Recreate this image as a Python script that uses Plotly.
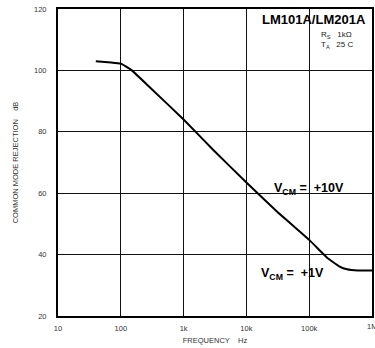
import plotly.graph_objects as go

freq_hz = [40, 70, 100, 120, 150, 300, 1000, 3000, 10000, 30000, 100000, 150000, 200000, 300000, 400000, 600000, 1000000]
cmr_db = [103, 102.6, 102.2, 101.3, 100, 94.2, 84, 74, 63.5, 54.2, 44.8, 41.2, 38.7, 36.2, 35.2, 34.8, 34.8]

x_tick_vals = [10, 100, 1000, 10000, 100000, 1000000]
x_tick_text = ["10", "100", "1k", "10k", "100k", "1M"]
y_tick_vals = [20, 40, 60, 80, 100, 120]

font_family = "Liberation Sans, Arial, sans-serif"

fig = go.Figure()
fig.add_trace(go.Scatter(
    x=freq_hz, y=cmr_db, mode="lines",
    line=dict(color="black", width=2, shape="spline", smoothing=0.3),
    hoverinfo="skip", showlegend=False,
))

fig.update_layout(
    width=375, height=348,
    margin=dict(l=58, r=3, t=9, b=32),
    paper_bgcolor="white", plot_bgcolor="white",
    font=dict(family=font_family, color="#222", size=8),
    showlegend=False,
)
fig.update_xaxes(
    type="log", range=[1, 6],
    tickvals=x_tick_vals[:-1], ticktext=x_tick_text[:-1],
    showgrid=True, gridcolor="#111", gridwidth=1,
    showline=True, linecolor="black", linewidth=2, mirror=True,
    ticks="", tickfont=dict(size=7.5, color="#333"), ticklabelstandoff=4,
    title=dict(text="FREQUENCY    Hz", font=dict(size=7.5, color="#333"), standoff=6),
    zeroline=False, automargin=False,
)
fig.update_yaxes(
    range=[20, 120],
    tickvals=y_tick_vals,
    showgrid=True, gridcolor="#111", gridwidth=1,
    showline=True, linecolor="black", linewidth=2, mirror=True,
    ticks="", tickfont=dict(size=7.5, color="#333"), ticklabelstandoff=8,
    title=dict(text="COMMON MODE REJECTION    dB", font=dict(size=7.5, color="#333"), standoff=14),
    zeroline=False, automargin=False,
)

# last x tick label (at the right edge, partly clipped in the reference)
fig.add_annotation(xref="x", yref="paper", x=6, y=0, yshift=-4, xanchor="center", yanchor="top",
                   text=x_tick_text[-1], showarrow=False,
                   font=dict(size=7.5, color="#333", family=font_family))

fig.add_annotation(xref="paper", yref="paper", x=0.988, y=0.997, xanchor="right", yanchor="top",
                   text="<b>LM101A/LM201A</b>", showarrow=False,
                   font=dict(size=13, color="black", family=font_family))
fig.add_annotation(xref="paper", yref="paper", x=0.83, y=0.938, xanchor="left", yanchor="top",
                   text="R<sub>S</sub>   1kΩ<br>T<sub>A</sub>   25 C", showarrow=False, align="left",
                   font=dict(size=8, color="#222", family=font_family))
fig.add_annotation(xref="paper", yref="paper", x=0.68, y=0.414, xanchor="left", yanchor="middle",
                   text="<b>V<sub>CM</sub> =  +10V</b>", showarrow=False,
                   font=dict(size=12.5, color="black", family=font_family))
fig.add_annotation(xref="paper", yref="paper", x=0.64, y=0.138, xanchor="left", yanchor="middle",
                   text="<b>V<sub>CM</sub> =  +1V</b>", showarrow=False,
                   font=dict(size=12.5, color="black", family=font_family))

fig.write_html("out.html", config={"displayModeBar": False},
               post_script="document.body.style.margin='0';document.body.style.overflow='hidden';")
